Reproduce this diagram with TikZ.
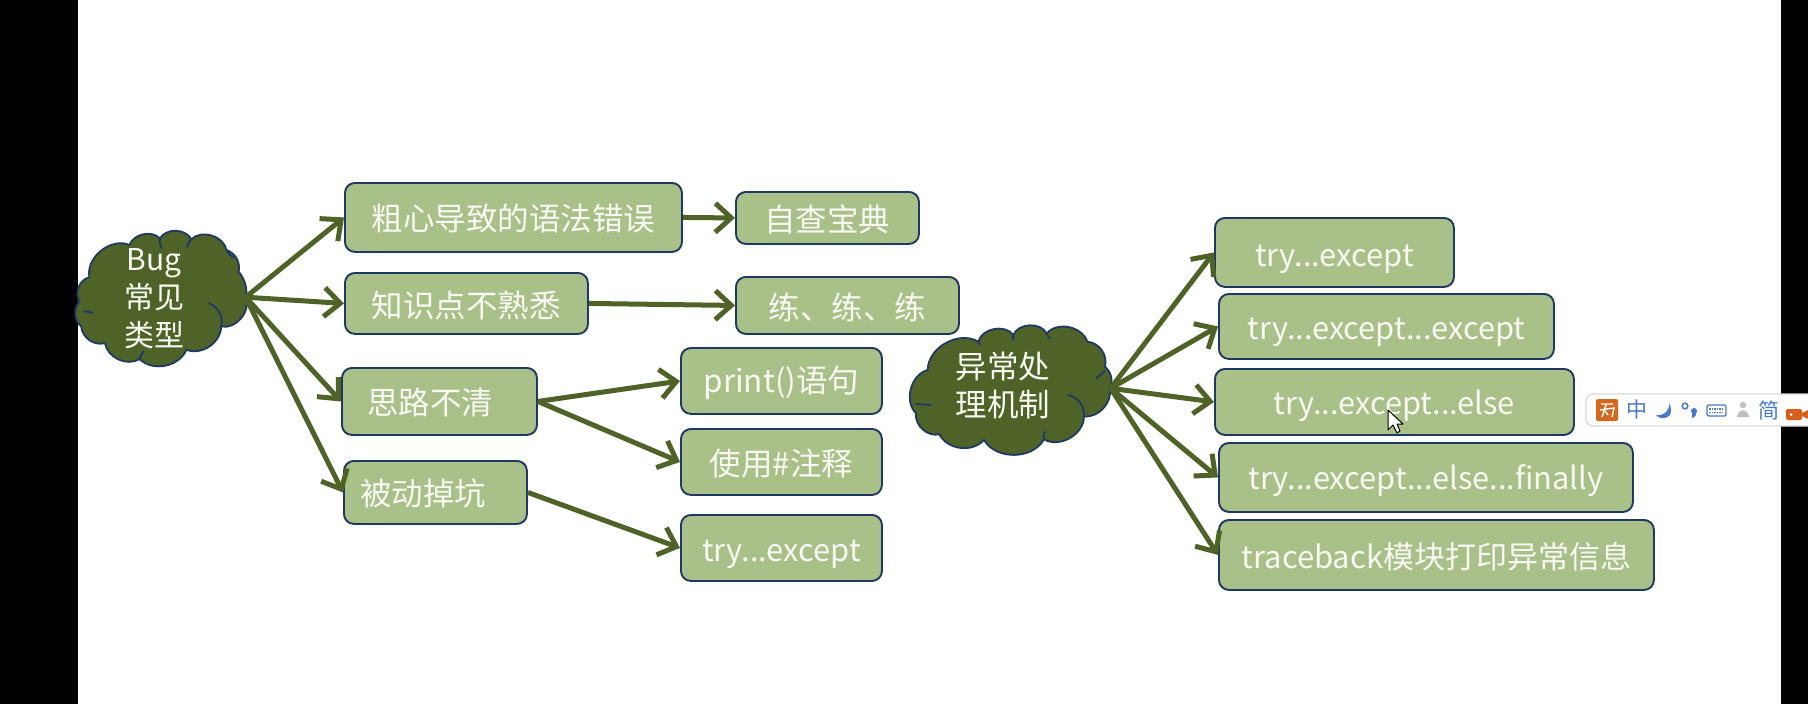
\documentclass[tikz,border=0pt]{standalone}
\usepackage{fontspec}
\setmainfont{Noto Sans CJK SC}
\usetikzlibrary{arrows.meta}
\definecolor{leaf}{HTML}{4F6228}
\definecolor{boxfill}{HTML}{A9C088}
\definecolor{edge}{HTML}{1F3864}
\definecolor{ink}{HTML}{F8F9F3}
\definecolor{imeblue}{HTML}{4A78C8}
\definecolor{imeorange}{HTML}{D2691E}
\tikzset{
  x=1pt,y=-1pt,
  boxnode/.style={draw=edge,line width=1.9pt,fill=boxfill,rounded corners=10pt,inner sep=0pt},
  labeltext/.style={text=ink,font=\fontsize{31.5}{38}\selectfont,inner sep=0pt,align=center},
  latintext/.style={font=\fontsize{30.8}{38}\selectfont},
  link/.style={draw=leaf,line width=5pt,-{Straight Barb[length=16pt,width=29pt,line width=5pt]},shorten >=0pt},
  cloudshape/.style={draw=edge,line width=1.8pt,fill=leaf,line join=round},
  curl/.style={draw=edge,line width=1.8pt,line cap=round},
  imeicon/.style={inner sep=0pt,text=imeblue,font=\fontsize{21}{24}\selectfont}
}
\newcommand{\boxat}[7][]{% options, name, x1, y1, x2, y2, text
  \node[boxnode,minimum width=#5pt-#3pt,minimum height=#6pt-#4pt,anchor=north west] (#2) at (#3-1,#4-1) {};
  \node[labeltext,yshift=-1.5pt,#1] (#2t) at (#2.center) {#7};
}
\begin{document}
\begin{tikzpicture}
\useasboundingbox (0,0) rectangle (1808,704);
\fill[white] (0,0) rectangle (1808,704);
\fill[black] (0,0) rectangle (78,704);
\fill[black] (1781,0) rectangle (1808,704);

% left cloud
\begin{scope}[shift={(60,170)},x=0.408pt,y=-0.333pt]
\draw[cloudshape] (72,322) to[bend left=62] (170,225) to[bend left=55] (245,205) to[bend left=60] (322,208) to[bend left=62] (408,240) to[bend left=40] (438,305) to[bend left=22] (456,385) to[bend left=60] (395,470) to[bend left=55] (310,540) to[bend left=55] (195,568) to[bend left=55] (110,520) to[bend left=50] (52,470) to[bend left=45] (48,395) to[bend left=55] (72,322) -- cycle;
\draw[curl] (245,205) to[bend right=20] (250,235);
\draw[curl] (322,208) to[bend right=20] (312,232);
\draw[curl] (408,240) to[bend right=20] (425,262);
\draw[curl] (365,400) to[bend left=40] (395,470);
\draw[curl] (58,425) to[bend left=15] (80,430);
\draw[curl] (195,568) to[bend left=15] (205,545);
\coordinate (bugtip) at (455,382);
\end{scope}

% right cloud
\begin{scope}[shift={(880,300)},x=0.3333pt,y=-0.3333pt]
\draw[cloudshape] (143,210) to[bend left=60] (295,125) to[bend left=65] (400,105) to[bend left=65] (500,100) to[bend left=60] (622,125) to[bend left=50] (675,200) to[bend left=35] (690,265) to[bend left=50] (612,350) to[bend left=60] (492,418) to[bend left=60] (312,420) to[bend left=55] (178,403) to[bend left=55] (108,340) to[bend left=60] (143,210) -- cycle;
\draw[curl] (295,125) to[bend right=20] (300,135);
\draw[curl] (400,105) to[bend right=20] (398,120);
\draw[curl] (500,100) to[bend right=20] (510,115);
\draw[curl] (650,235) to (675,212);
\draw[curl] (565,285) to[bend left=40] (612,350);
\draw[curl] (108,312) to (152,315);
\draw[curl] (492,418) to[bend left=20] (495,395);
\coordinate (exctip) at (692,265);
\end{scope}

\node[labeltext,font=\fontsize{30}{38}\selectfont] (bug) at (154,299) {Bug\\常见\\类型};
\node[labeltext] (exc) at (1003,386) {异常处\\理机制};

% boxes
\boxat{a1}{345}{183}{682}{252}{粗心导致的语法错误}
\boxat{a2}{345}{273}{588}{334}{知识点不熟悉}
\boxat{a3}{342}{368}{537}{435}{\hspace*{-18pt}思路不清}
\boxat{a4}{344}{461}{527}{524}{\hspace*{-24pt}被动掉坑}
\boxat{b1}{736}{192}{919}{244}{自查宝典}
\boxat{b2}{736}{277}{959}{334}{练、练、练}
\boxat{c1}{681}{348}{882}{414}{print()语句}
\boxat{c2}{681}{429}{882}{495}{使用\#注释}
\boxat[latintext,yshift=-5pt]{c3}{681}{515}{882}{581}{try...except}
\boxat[latintext,yshift=-5pt]{d1}{1215}{218}{1454}{287}{try...except}
\boxat[latintext,yshift=-4pt]{d2}{1219}{294}{1554}{359}{try...except...except}
\boxat[latintext,yshift=-2pt]{d3}{1215}{369}{1574}{435}{try...except...else}
\boxat[latintext,yshift=-2pt]{d4}{1219}{443}{1633}{512}{try...except...else...finally}
\boxat[font=\fontsize{31}{38}\selectfont]{d5}{1219}{520}{1654}{590}{traceback模块打印异常信息}

% connectors
\draw[link] (bugtip) -- (a1.west);
\draw[link] (bugtip) -- (a2.west);
\draw[link] (bugtip) -- (a3.west);
\draw[link] (bugtip) -- (a4.west);
\draw[link] (a1.east) -- (b1.west);
\draw[link] (a2.east) -- (b2.west);
\draw[link] (a3.east) -- (c1.west);
\draw[link] (a3.east) -- (c2.west);
\draw[link] (a4.east) -- (c3.west);
\draw[link] (exctip) -- (d1.west);
\draw[link] (exctip) -- (d2.west);
\draw[link] (exctip) -- (d3.west);
\draw[link] (exctip) -- (d4.west);
\draw[link] (exctip) -- (d5.west);

% mouse pointer
\draw[black,fill=white,line width=1pt,line join=round] (1388,410) -- (1388,430) -- (1393,425) -- (1397,433) -- (1400,431) -- (1397,424) -- (1403,424) -- cycle;

% input-method toolbar
\draw[draw=black!15,fill=white,line width=1.4pt,rounded corners=7pt] (1586,394) rectangle (1830,426);
\fill[imeorange,rounded corners=2pt] (1596,399) rectangle (1618,421);
\draw[white,line width=1.4pt] (1601,404) -- (1613,404) (1600,410) -- (1614,408) -- (1612,417) (1606,405) -- (1602,417) (1605,411) -- (1608,415);
\node[imeicon] (ime1) at (1637,410) {中};
\fill[imeblue] (1669,403) .. controls (1670,411) and (1664,416) .. (1656,415) .. controls (1660,421) and (1677,419) .. (1669,403) -- cycle;
\draw[imeblue,line width=1.5pt] (1685,406) circle (2.8pt);
\fill[imeblue] (1694,411) circle (3pt);
\fill[imeblue] (1696,412) .. controls (1697,415) and (1695,417) .. (1692,418) -- (1692,412) -- cycle;
\draw[imeblue,line width=1.4pt,rounded corners=1.5pt] (1707,405) rectangle (1726,416);
\draw[imeblue,line width=1.4pt,dash pattern=on 1.5pt off 1pt] (1709,409) -- (1724,409) (1709,412.5) -- (1724,412.5);
\fill[black!25] (1743,405) circle (3.2pt);
\fill[black!25] (1737,417) .. controls (1738,408) and (1748,408) .. (1749,417) -- cycle;
\node[imeicon] (ime2) at (1769,410) {简};
\fill[imeorange!90!red,rounded corners=2pt] (1786,409) rectangle (1802,420);
\fill[imeorange!90!red] (1802,413) -- (1808,410) -- (1808,419) -- (1802,416) -- cycle;
\fill[white] (1791,414.5) circle (1.5pt);
\end{tikzpicture}
\end{document}
